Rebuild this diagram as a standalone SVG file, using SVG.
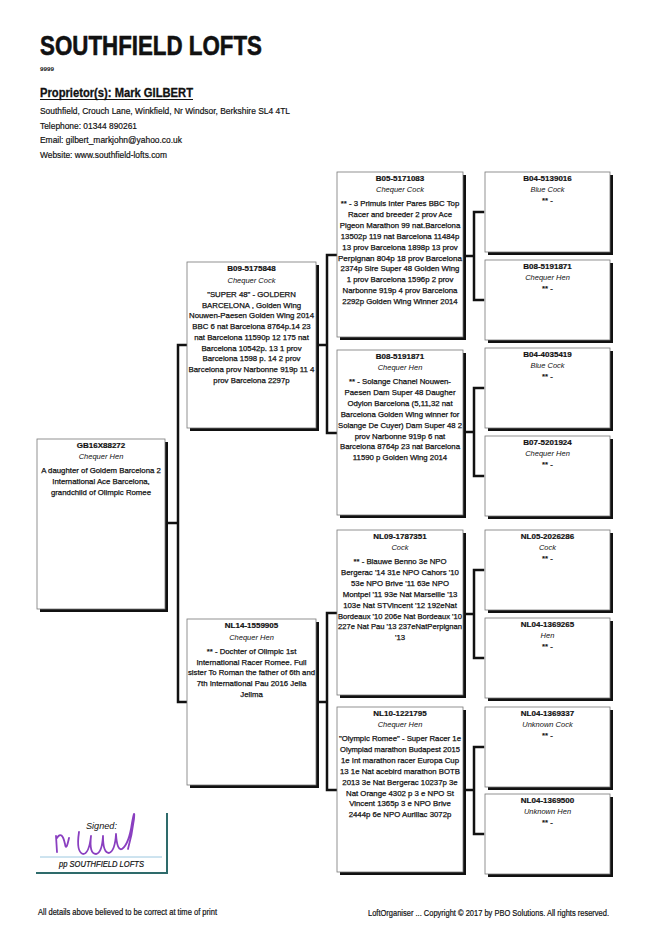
<svg xmlns="http://www.w3.org/2000/svg" width="650" height="934" viewBox="0 0 650 934">
<style>
text{font-family:"Liberation Sans",Arial,sans-serif;fill:#111}
.ring{font-size:8px;font-weight:bold;text-anchor:middle;stroke:#111;stroke-width:0.2}
.col{font-size:7.5px;font-style:italic;text-anchor:middle}
.d{font-size:7.8px;text-anchor:middle;stroke:#111;stroke-width:0.25}
.sh{fill:#111}
.bx{fill:#fff;stroke:#777;stroke-width:0.8}
.c{stroke:#111;stroke-width:2.5;fill:none;stroke-linecap:square}
.hd{font-weight:bold}
</style>
<rect width="650" height="934" fill="#fff"/>
<g id="header">
<text x="40" y="55" font-size="28" class="hd" textLength="222" lengthAdjust="spacingAndGlyphs" stroke="#111" stroke-width="0.6">SOUTHFIELD LOFTS</text>
<text x="40" y="71" font-size="6" class="hd" textLength="14" lengthAdjust="spacingAndGlyphs">9999</text>
<text x="40" y="97" font-size="12" class="hd" textLength="153" lengthAdjust="spacingAndGlyphs" stroke="#111" stroke-width="0.3">Proprietor(s): Mark GILBERT</text>
<line x1="40" y1="99.5" x2="193" y2="99.5" stroke="#111" stroke-width="1.2"/>
<text x="40" y="114" font-size="9.5" textLength="250" lengthAdjust="spacingAndGlyphs" stroke="#111" stroke-width="0.2">Southfield, Crouch Lane, Winkfield, Nr Windsor, Berkshire SL4 4TL</text>
<text x="40" y="129" font-size="9.5" textLength="97" lengthAdjust="spacingAndGlyphs" stroke="#111" stroke-width="0.2">Telephone: 01344 890261</text>
<text x="40" y="143" font-size="9.5" textLength="142" lengthAdjust="spacingAndGlyphs" stroke="#111" stroke-width="0.2">Email: gilbert_markjohn@yahoo.co.uk</text>
<text x="40" y="158" font-size="9.5" textLength="127" lengthAdjust="spacingAndGlyphs" stroke="#111" stroke-width="0.2">Website: www.southfield-lofts.com</text>
</g>
<g id="connectors">
<path class="c" d="M165,523 H178 M178,345 V702 M178,345 H187 M178,702 H187"/>
<path class="c" d="M319,345 H327 M327,255 V433 M327,255 H337 M327,433 H337"/>
<path class="c" d="M319,702 H327 M327,613 V790 M327,613 H337 M327,790 H337"/>
<path class="c" d="M466,256 H474 M474,212 V300 M474,212 H483 M474,300 H483"/>
<path class="c" d="M466,432 H474 M474,388 V476 M474,388 H483 M474,476 H483"/>
<path class="c" d="M466,614 H474 M474,570 V658 M474,570 H483 M474,658 H483"/>
<path class="c" d="M466,790 H474 M474,747 V834 M474,747 H483 M474,834 H483"/>
</g>
<g id="n0">
<rect class="sh" x="40" y="442" width="128" height="170"/>
<rect class="bx" x="37" y="439" width="128" height="170"/>
<text class="ring" x="101" y="448">GB16X88272</text>
<text class="col" x="101" y="459">Chequer Hen</text>
<text class="d" x="101" y="473">A daughter of Goldem Barcelona 2</text>
<text class="d" x="101" y="484">International Ace Barcelona,</text>
<text class="d" x="101" y="495">grandchild of Olimpic Romee</text>
</g>
<g id="n1">
<rect class="sh" x="190" y="265" width="129" height="166"/>
<rect class="bx" x="187" y="262" width="129" height="166"/>
<text class="ring" x="251.5" y="271">B09-5175848</text>
<text class="col" x="251.5" y="283">Chequer Cock</text>
<text class="d" x="251.5" y="297">"SUPER 48" - GOLDERN</text>
<text class="d" x="251.5" y="307.7">BARCELONA , Golden Wing</text>
<text class="d" x="251.5" y="318.4" textLength="125" lengthAdjust="spacingAndGlyphs">Nouwen-Paesen  Golden Wing 2014</text>
<text class="d" x="251.5" y="329.1">BBC   6 nat Barcelona 8764p.14 23</text>
<text class="d" x="251.5" y="339.8">nat Barcelona 11590p 12 175 nat</text>
<text class="d" x="251.5" y="350.5">Barcelona 10542p. 13 1 prov</text>
<text class="d" x="251.5" y="361.2">Barcelona 1598 p. 14 2 prov</text>
<text class="d" x="251.5" y="371.9" textLength="126" lengthAdjust="spacingAndGlyphs">Barcelona prov Narbonne 919p 11 4</text>
<text class="d" x="251.5" y="382.6">prov Barcelona 2297p</text>
</g>
<g id="n2">
<rect class="sh" x="190" y="622" width="129" height="166"/>
<rect class="bx" x="187" y="619" width="129" height="166"/>
<text class="ring" x="251.5" y="628">NL14-1559905</text>
<text class="col" x="251.5" y="640">Chequer Hen</text>
<text class="d" x="251.5" y="654">** - Dochter of Olimpic 1st</text>
<text class="d" x="251.5" y="664.7">International Racer Romee. Full</text>
<text class="d" x="251.5" y="675.4" textLength="127" lengthAdjust="spacingAndGlyphs">sister To Roman the father of 6th and</text>
<text class="d" x="251.5" y="686.1">7th International Pau 2016 Jella</text>
<text class="d" x="251.5" y="696.8">Jellma</text>
</g>
<g id="n3">
<rect class="sh" x="340" y="175" width="126" height="165"/>
<rect class="bx" x="337" y="172" width="126" height="165"/>
<text class="ring" x="400" y="181">B05-5171083</text>
<text class="col" x="400" y="192">Chequer Cock</text>
<text class="d" x="400" y="206">** - 3 Primuls Inter Pares BBC   Top</text>
<text class="d" x="400" y="216.9">Racer and breeder   2 prov Ace</text>
<text class="d" x="400" y="227.8">Pigeon Marathon 99 nat.Barcelona</text>
<text class="d" x="400" y="238.7">13502p  119 nat Barcelona 11484p</text>
<text class="d" x="400" y="249.6">13 prov Barcelona 1898p  13 prov</text>
<text class="d" x="400" y="260.5" textLength="124" lengthAdjust="spacingAndGlyphs">Perpignan 804p   18 prov Barcelona</text>
<text class="d" x="400" y="271.4">2374p   Sire Super 48 Golden Wing</text>
<text class="d" x="400" y="282.3">1 prov Barcelona 1596p   2 prov</text>
<text class="d" x="400" y="293.2">Narbonne 919p   4 prov Barcelona</text>
<text class="d" x="400" y="304.1">2292p   Golden Wing Winner 2014</text>
</g>
<g id="n4">
<rect class="sh" x="340" y="353" width="126" height="165"/>
<rect class="bx" x="337" y="350" width="126" height="165"/>
<text class="ring" x="400" y="359">B08-5191871</text>
<text class="col" x="400" y="370">Chequer Hen</text>
<text class="d" x="400" y="384">** - Solange Chanel  Nouwen-</text>
<text class="d" x="400" y="394.9">Paesen Dam Super 48  Daugher</text>
<text class="d" x="400" y="405.8">Odylon Barcelona (5,11,32 nat</text>
<text class="d" x="400" y="416.7">Barcelona Golden Wing winner for</text>
<text class="d" x="400" y="427.6" textLength="124" lengthAdjust="spacingAndGlyphs">Solange De Cuyer)  Dam Super 48  2</text>
<text class="d" x="400" y="438.5">prov Narbonne 919p   6 nat</text>
<text class="d" x="400" y="449.4">Barcelona 8764p  23 nat Barcelona</text>
<text class="d" x="400" y="460.3">11590 p Golden Wing 2014</text>
</g>
<g id="n5">
<rect class="sh" x="340" y="533" width="126" height="165"/>
<rect class="bx" x="337" y="530" width="126" height="165"/>
<text class="ring" x="400" y="539">NL09-1787351</text>
<text class="col" x="400" y="550">Cock</text>
<text class="d" x="400" y="564">** - Blauwe Benno   3e NPO</text>
<text class="d" x="400" y="574.9">Bergerac '14   31e NPO Cahors '10</text>
<text class="d" x="400" y="585.8">53e NPO Brive '11  63e NPO</text>
<text class="d" x="400" y="596.7">Montpel '11  93e Nat Marseille '13</text>
<text class="d" x="400" y="607.6">103e Nat STVincent '12  192eNat</text>
<text class="d" x="400" y="618.5" textLength="124" lengthAdjust="spacingAndGlyphs">Bordeaux '10  206e Nat Bordeaux '10</text>
<text class="d" x="400" y="629.4" textLength="124" lengthAdjust="spacingAndGlyphs">227e Nat Pau '13  237eNatPerpignan</text>
<text class="d" x="400" y="640.3">'13</text>
</g>
<g id="n6">
<rect class="sh" x="340" y="710" width="126" height="165"/>
<rect class="bx" x="337" y="707" width="126" height="165"/>
<text class="ring" x="400" y="716">NL10-1221795</text>
<text class="col" x="400" y="727">Chequer Hen</text>
<text class="d" x="400" y="741" textLength="122" lengthAdjust="spacingAndGlyphs">"Olympic Romee" - Super Racer 1e</text>
<text class="d" x="400" y="751.9" textLength="120" lengthAdjust="spacingAndGlyphs">Olympiad marathon Budapest 2015</text>
<text class="d" x="400" y="762.8" textLength="118" lengthAdjust="spacingAndGlyphs">1e Int marathon racer Europa Cup</text>
<text class="d" x="400" y="773.7" textLength="120" lengthAdjust="spacingAndGlyphs">13  1e Nat acebird marathon BOTB</text>
<text class="d" x="400" y="784.6">2013  3e Nat Bergerac 10237p   3e</text>
<text class="d" x="400" y="795.5">Nat Orange 4302 p  3 e NPO St</text>
<text class="d" x="400" y="806.4">Vincent 1365p  3 e NPO Brive</text>
<text class="d" x="400" y="817.3">2444p  6e NPO Aurillac 3072p</text>
</g>
<g id="n7">
<rect class="sh" x="488" y="175" width="125" height="80"/>
<rect class="bx" x="485" y="172" width="125" height="80"/>
<text class="ring" x="547.5" y="181">B04-5139016</text>
<text class="col" x="547.5" y="192">Blue Cock</text>
<text class="d" x="547.5" y="203">** -</text>
</g>
<g id="n8">
<rect class="sh" x="488" y="263" width="125" height="80"/>
<rect class="bx" x="485" y="260" width="125" height="80"/>
<text class="ring" x="547.5" y="269">B08-5191871</text>
<text class="col" x="547.5" y="280">Chequer Hen</text>
<text class="d" x="547.5" y="291">** -</text>
</g>
<g id="n9">
<rect class="sh" x="488" y="351" width="125" height="80"/>
<rect class="bx" x="485" y="348" width="125" height="80"/>
<text class="ring" x="547.5" y="357">B04-4035419</text>
<text class="col" x="547.5" y="368">Blue Cock</text>
<text class="d" x="547.5" y="379">** -</text>
</g>
<g id="n10">
<rect class="sh" x="488" y="439" width="125" height="80"/>
<rect class="bx" x="485" y="436" width="125" height="80"/>
<text class="ring" x="547.5" y="445">B07-5201924</text>
<text class="col" x="547.5" y="456">Chequer Hen</text>
<text class="d" x="547.5" y="467">** -</text>
</g>
<g id="n11">
<rect class="sh" x="488" y="533" width="125" height="80"/>
<rect class="bx" x="485" y="530" width="125" height="80"/>
<text class="ring" x="547.5" y="539">NL05-2026286</text>
<text class="col" x="547.5" y="550">Cock</text>
<text class="d" x="547.5" y="561">** -</text>
</g>
<g id="n12">
<rect class="sh" x="488" y="621" width="125" height="80"/>
<rect class="bx" x="485" y="618" width="125" height="80"/>
<text class="ring" x="547.5" y="627">NL04-1369265</text>
<text class="col" x="547.5" y="638">Hen</text>
<text class="d" x="547.5" y="649">** -</text>
</g>
<g id="n13">
<rect class="sh" x="488" y="710" width="125" height="80"/>
<rect class="bx" x="485" y="707" width="125" height="80"/>
<text class="ring" x="547.5" y="716">NL04-1369337</text>
<text class="col" x="547.5" y="727">Unknown Cock</text>
<text class="d" x="547.5" y="738">** -</text>
</g>
<g id="n14">
<rect class="sh" x="488" y="797" width="125" height="80"/>
<rect class="bx" x="485" y="794" width="125" height="80"/>
<text class="ring" x="547.5" y="803">NL04-1369500</text>
<text class="col" x="547.5" y="814">Unknown Hen</text>
<text class="d" x="547.5" y="825">** -</text>
</g>
<g id="signature">
<path d="M167,813 V873 H36" fill="none" stroke="#2e6b6b" stroke-width="2"/>
<line x1="40" y1="857" x2="162" y2="857" stroke="#9cc8e0" stroke-width="1"/>
<text x="86" y="829" font-size="9.5" font-style="italic" textLength="31" lengthAdjust="spacingAndGlyphs">Signed:</text>
<path d="M56,836 l1,16 M57,838 q5,-8 8,6 q1,8 4,-6 M79,832 q-3,20 4,22 q6,0 8,-18 q-2,18 5,18 q6,-1 7,-18 q0,17 6,17 q6,-2 7,-19 q1,17 6,15 q7,-5 10,-26 q3,-16 2,-4 q-2,16 -6,30" fill="none" stroke="#8a3fc0" stroke-width="1.8" stroke-linecap="round" stroke-linejoin="round"/>
<text x="59" y="867" font-size="8.5" font-style="italic" textLength="85" lengthAdjust="spacingAndGlyphs" stroke="#111" stroke-width="0.2">pp SOUTHFIELD LOFTS</text>
</g>
<g id="footer">
<text x="38" y="915" font-size="8.5" textLength="179" lengthAdjust="spacingAndGlyphs" stroke="#111" stroke-width="0.2">All details above believed to be correct at time of print</text>
<text x="368" y="916" font-size="8.5" textLength="241" lengthAdjust="spacingAndGlyphs" stroke="#111" stroke-width="0.2">LoftOrganiser ... Copyright © 2017 by PBO Solutions. All rights reserved.</text>
</g>
</svg>
